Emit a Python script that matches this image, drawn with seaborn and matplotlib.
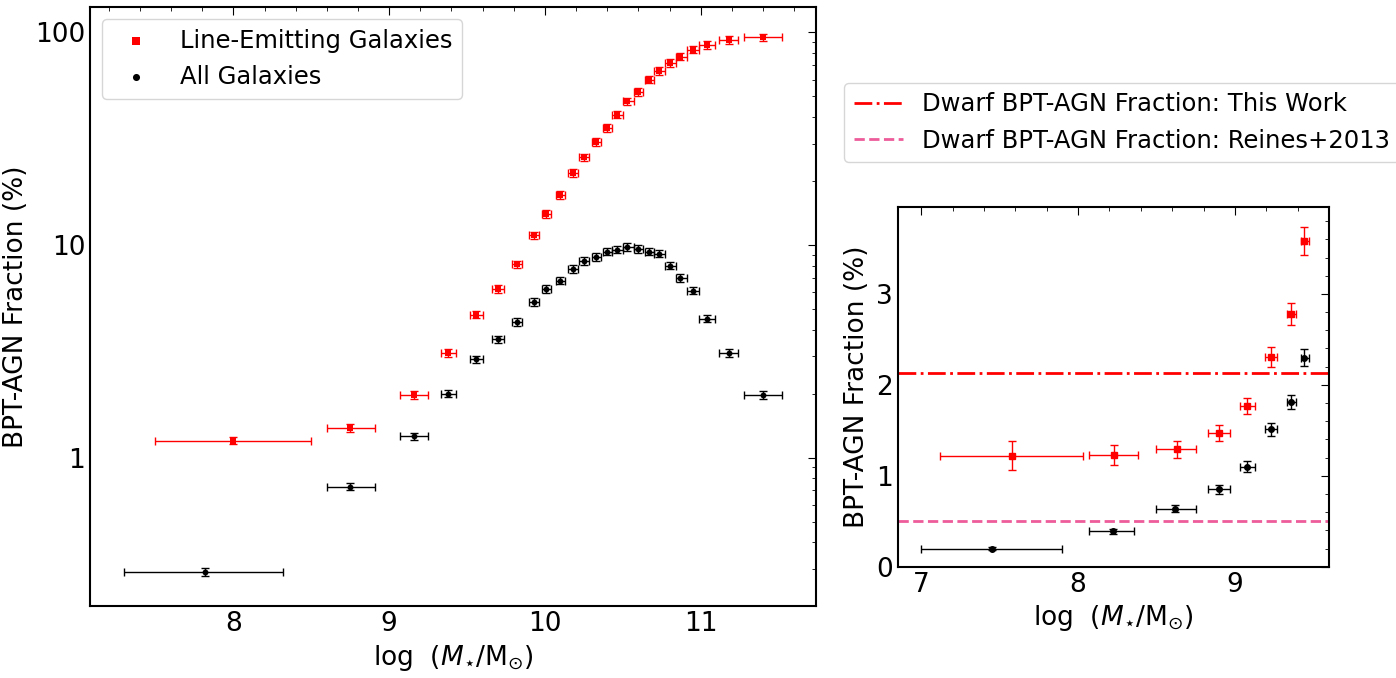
import numpy as np
import matplotlib
matplotlib.use("Agg")
import matplotlib.pyplot as plt
import seaborn as sns
from matplotlib.ticker import FixedLocator, FixedFormatter, NullFormatter

sns.set_style("white")
plt.rcParams['font.family'] = ['DejaVu Sans']
plt.rcParams['mathtext.fontset'] = 'dejavusans'
plt.rcParams['text.color'] = 'black'
plt.rcParams['axes.labelcolor'] = 'black'
plt.rcParams['xtick.color'] = 'black'
plt.rcParams['ytick.color'] = 'black'

# main panel: line-emitting galaxies (red)
red_x = [8.0, 8.75, 9.16, 9.38, 9.56, 9.70, 9.82, 9.93, 10.01, 10.10, 10.18, 10.25, 10.33,
         10.40, 10.46, 10.53, 10.60, 10.67, 10.73, 10.80, 10.87, 10.95, 11.04, 11.18, 11.40]
red_xlo = [7.50, 8.60, 9.07, 9.33, 9.52, 9.66, 9.79, 9.90, 9.98, 10.07, 10.15, 10.22, 10.30,
           10.37, 10.43, 10.50, 10.57, 10.64, 10.70, 10.77, 10.84, 10.91, 10.99, 11.12, 11.28]
red_xhi = [8.50, 8.91, 9.25, 9.43, 9.60, 9.74, 9.85, 9.96, 10.04, 10.13, 10.21, 10.28, 10.36,
           10.43, 10.50, 10.57, 10.63, 10.70, 10.77, 10.84, 10.91, 10.99, 11.09, 11.24, 11.52]
red_y = [1.20, 1.38, 1.97, 3.1, 4.7, 6.2, 8.1, 11.1, 14.0, 17.2, 21.8, 25.8, 30.5,
         35.5, 41.0, 47.5, 52.5, 60.0, 66.0, 72.0, 77.0, 83.0, 87.5, 92.0, 95.0]

# main panel: all galaxies (black)
blk_x = [7.82] + red_x[1:]
blk_xlo = [7.30] + red_xlo[1:]
blk_xhi = [8.32] + red_xhi[1:]
blk_y = [0.29, 0.73, 1.26, 2.0, 2.9, 3.6, 4.35, 5.4, 6.2, 6.8, 7.7, 8.4, 8.8,
         9.3, 9.5, 9.8, 9.6, 9.3, 9.1, 8.0, 7.0, 6.1, 4.5, 3.1, 1.97]

# inset: dwarf galaxies
ired_x = [7.58, 8.23, 8.63, 8.90, 9.08, 9.23, 9.36, 9.44]
ired_xlo = [7.12, 8.07, 8.50, 8.83, 9.03, 9.19, 9.33, 9.42]
ired_xhi = [8.03, 8.38, 8.75, 8.97, 9.13, 9.27, 9.39, 9.47]
ired_y = [1.22, 1.23, 1.29, 1.47, 1.77, 2.31, 2.78, 3.58]
ired_e = [0.16, 0.11, 0.09, 0.09, 0.09, 0.11, 0.12, 0.15]
iblk_x = [7.45, 8.22, 8.62, 8.90, 9.08, 9.23, 9.36, 9.44]
iblk_xlo = [7.00, 8.07, 8.50, 8.83, 9.03, 9.19, 9.33, 9.42]
iblk_xhi = [7.90, 8.36, 8.75, 8.97, 9.13, 9.27, 9.39, 9.47]
iblk_y = [0.20, 0.39, 0.64, 0.85, 1.10, 1.51, 1.81, 2.30]
iblk_e = [0.02, 0.03, 0.04, 0.05, 0.06, 0.07, 0.08, 0.09]
this_work = 2.13
reines = 0.5

fig = plt.figure(figsize=(13.96, 6.78), dpi=100)
ax = fig.add_axes([0.0645, 0.106, 0.52, 0.884])
ax2 = fig.add_axes([0.643, 0.164, 0.309, 0.53])


def xerr(x, lo, hi):
    x = np.array(x)
    return [x - np.array(lo), np.array(hi) - x]


ry = np.array(red_y)
by = np.array(blk_y)
ax.errorbar(red_x, red_y, xerr=xerr(red_x, red_xlo, red_xhi), yerr=0.04 * ry,
            fmt='none', ecolor='red', elinewidth=1, capsize=3)
ax.errorbar(blk_x, blk_y, xerr=xerr(blk_x, blk_xlo, blk_xhi), yerr=0.04 * by,
            fmt='none', ecolor='black', elinewidth=1, capsize=3)
sns.scatterplot(x=red_x, y=red_y, ax=ax, color='red', marker='s', s=22, linewidth=0,
                label='Line-Emitting Galaxies', zorder=3)
sns.scatterplot(x=blk_x, y=blk_y, ax=ax, color='black', marker='o', s=18, linewidth=0,
                label='All Galaxies', zorder=3)
ax.set_yscale('log')
ax.set_xlim(7.08, 11.74)
ax.set_ylim(0.2, 132)
ax.yaxis.set_major_locator(FixedLocator([1, 10, 100]))
ax.yaxis.set_major_formatter(FixedFormatter(['1', '10', '100']))
ax.yaxis.set_minor_formatter(NullFormatter())
ax.set_xticks([8, 9, 10, 11])
ax.set_xticks(np.arange(7.2, 11.75, 0.2), minor=True)
ax.set_xlabel(r'log  $(M_{\star}/\mathrm{M}_{\odot})$', fontsize=19)
ax.set_ylabel('BPT-AGN Fraction (%)', fontsize=19)
ax.legend(loc='upper left', fontsize=17.5, markerscale=1.2)

ax2.errorbar(ired_x, ired_y, xerr=xerr(ired_x, ired_xlo, ired_xhi), yerr=ired_e,
             fmt='s', color='red', ms=5, elinewidth=1, capsize=3)
ax2.errorbar(iblk_x, iblk_y, xerr=xerr(iblk_x, iblk_xlo, iblk_xhi), yerr=iblk_e,
             fmt='o', color='black', ms=4, elinewidth=1, capsize=3)
l1 = ax2.axhline(this_work, color='red', ls='-.', lw=2)
l2 = ax2.axhline(reines, color='#ee5c9a', ls='--', lw=2)
ax2.set_xlim(6.85, 9.6)
ax2.set_ylim(0, 3.95)
ax2.set_xticks([7, 8, 9])
ax2.set_xticks(np.arange(7, 9.6, 0.2), minor=True)
ax2.set_yticks([0, 1, 2, 3])
ax2.set_yticks(np.arange(0, 3.95, 0.2), minor=True)
ax2.set_xlabel(r'log  $(M_{\star}/\mathrm{M}_{\odot})$', fontsize=19)
ax2.set_ylabel('BPT-AGN Fraction (%)', fontsize=19)
fig.legend([l1, l2], ['Dwarf BPT-AGN Fraction: This Work',
                      'Dwarf BPT-AGN Fraction: Reines+2013'],
           loc='upper left', bbox_to_anchor=(0.596, 0.896), fontsize=17.5)

for a in (ax, ax2):
    a.tick_params(which='both', direction='in', top=True, right=True, labelsize=19)
    a.tick_params(which='major', length=6)
    a.tick_params(which='minor', length=3)
    for s in a.spines.values():
        s.set_color('black')
        s.set_linewidth(1.5)

fig.savefig('out.png', dpi=100)
